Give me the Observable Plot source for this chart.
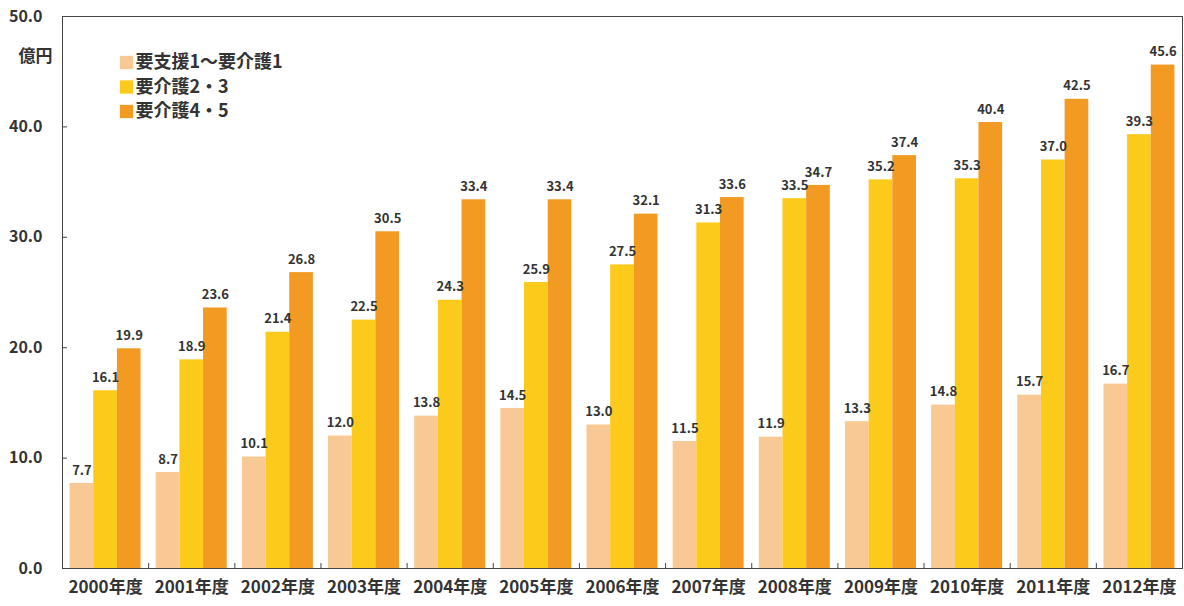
<!DOCTYPE html>
<html><head><meta charset="utf-8">
<script src="https://cdn.jsdelivr.net/npm/d3@7"></script>
<script src="https://cdn.jsdelivr.net/npm/@observablehq/plot@0.6"></script>
<style>body{margin:0;background:#fff}#chart svg{overflow:visible}</style>
</head><body><div id="chart"></div>
<script>
const years = ["2000年度","2001年度","2002年度","2003年度","2004年度","2005年度","2006年度","2007年度","2008年度","2009年度","2010年度","2011年度","2012年度"];
const series = ["要支援1～要介護1","要介護2・3","要介護4・5"];
const support1Care1 = [7.7,8.7,10.1,12.0,13.8,14.5,13.0,11.5,11.9,13.3,14.8,15.7,16.7];
const care23 = [16.1,18.9,21.4,22.5,24.3,25.9,27.5,31.3,33.5,35.2,35.3,37.0,39.3];
const care45 = [19.9,23.6,26.8,30.5,33.4,33.4,32.1,33.6,34.7,37.4,40.4,42.5,45.6];
const colors = ["#F8C995","#FCCA1B","#F39A22"];
const yTicks = [0,10,20,30,40,50];
const unitLabel = "億円";

const seriesValues = [support1Care1, care23, care45];
const rows = years.flatMap((yr, i) => series.map((s, j) => ({year: yr, series: s, value: seriesValues[j][i]})));

const font = "'Noto Sans CJK JP', 'Noto Sans', sans-serif";
const ink = "#333";

const legendMarks = series.flatMap((s, i) => [
  Plot.dot([s], {fx: () => years[0], frameAnchor: "top-left", dx: 64, dy: 46 + i * 24.5, symbol: "square", r: 7.5, fill: colors[i], stroke: null}),
  Plot.text([s], {fx: () => years[0], frameAnchor: "top-left", lineAnchor: "middle", dx: 73, dy: 46 + i * 24.5, textAnchor: "start", fontSize: 18, fontWeight: "bold", fill: ink})
]);

const chart = Plot.plot({
  width: 1184,
  height: 606,
  marginLeft: 62,
  marginRight: 2,
  marginTop: 16,
  marginBottom: 38,
  style: {fontFamily: font, background: "#fff", color: ink},
  fx: {domain: years, padding: 0, label: null, round: false},
  x: {domain: series, paddingOuter: 0.32, paddingInner: 0, axis: null, round: false},
  y: {domain: [0, 50], axis: null},
  color: {domain: series, range: colors},
  marks: [
    Plot.barY(rows, {fx: "year", x: "series", y: "value", fill: "series"}),
    Plot.text(rows, {fx: "year", x: "series", y: "value", text: d => d.value.toFixed(1), dy: -13, fontSize: 13, fontWeight: "bold", fill: ink}),
    Plot.ruleX(years.slice(1), {fx: d => d, x: () => series[0], y1: 0, y2: 0.45, dx: -19.4, stroke: "#444"}),
    Plot.axisY(yTicks, {anchor: "left", tickFormat: d => d.toFixed(1), tickSize: -5, tickPadding: 25, fontSize: 16, fontWeight: "bold", label: null, stroke: "#444"}),
    Plot.axisFx({anchor: "bottom", tickSize: 0, tickPadding: 12, fontSize: 17, fontWeight: "bold", label: null}),
    Plot.text([unitLabel], {fx: () => years[0], frameAnchor: "top-left", lineAnchor: "middle", dx: -10, dy: 40, textAnchor: "end", fontSize: 17, fontWeight: "bold", fill: ink}),
    ...legendMarks,
    Plot.frame({facet: "super", stroke: "#444"})
  ]
});
document.getElementById("chart").appendChild(chart);
</script>
</body></html>
